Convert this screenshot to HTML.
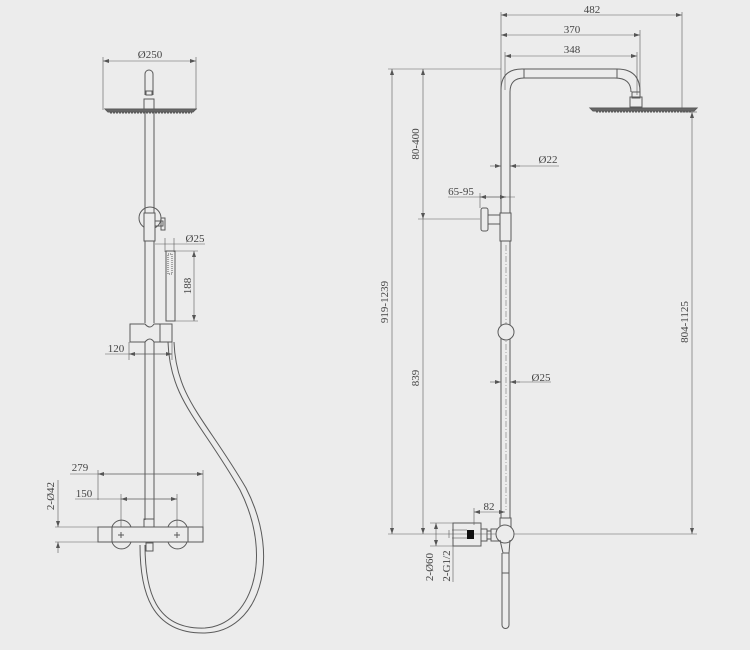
<!DOCTYPE html>
<html><head><meta charset="utf-8"><style>
html,body{margin:0;padding:0;background:#ececec;}
svg{display:block}
text{font-family:"Liberation Serif",serif;font-size:11px;fill:#444}
</style></head><body>
<svg width="750" height="650" viewBox="0 0 750 650" xmlns="http://www.w3.org/2000/svg">
<defs>
<marker id="a" markerWidth="6" markerHeight="4" refX="6" refY="2" orient="auto-start-reverse" markerUnits="userSpaceOnUse"><path d="M0,0 L6,2 L0,4z" fill="#555"/></marker>
</defs>
<rect width="750" height="650" fill="#ececec"/>
<g stroke="#5a5a5a" stroke-width="1" fill="none">
<!-- LEFT VIEW -->
<!-- dim 250 -->
<line x1="103" y1="57" x2="103" y2="110" stroke-width="0.6"/>
<line x1="196" y1="57" x2="196" y2="110" stroke-width="0.6"/>
<line x1="103" y1="61" x2="196" y2="61" stroke-width="0.6" marker-start="url(#a)" marker-end="url(#a)"/>
<!-- head -->
<path d="M145,95 V74 a4,4 0 0 1 8,0 V95"/>
<rect x="146" y="91" width="6" height="4"/>
<rect x="144" y="99" width="10" height="10"/>
<path d="M105,109 H196 L193,112 H108 Z" fill="#666"/>
<line x1="110" y1="113" x2="192" y2="113" stroke-dasharray="2,1"/>
<!-- pipe -->
<line x1="145" y1="112" x2="145" y2="323"/>
<line x1="154" y1="112" x2="154" y2="240"/>
<line x1="154" y1="240" x2="154" y2="323"/>
<line x1="145" y1="342" x2="145" y2="520"/>
<line x1="154" y1="342" x2="154" y2="520"/>
<circle cx="150" cy="218" r="11"/>
<rect x="144" y="213" width="11" height="28" fill="#ececec"/>
<rect x="155" y="221" width="8" height="5"/>
<rect x="161" y="218" width="4" height="12"/>
<!-- Ø25 dim -->
<line x1="165" y1="238" x2="165" y2="252" stroke-width="0.6"/>
<line x1="174" y1="238" x2="174" y2="252" stroke-width="0.6"/>
<line x1="155" y1="244" x2="205" y2="244" stroke-width="0.6"/>
<!-- hand shower -->
<rect x="166" y="251" width="9" height="70"/>
<rect x="168" y="254" width="4" height="20" stroke-dasharray="1,1"/>
<line x1="175" y1="251" x2="198" y2="251" stroke-width="0.6"/>
<line x1="175" y1="321" x2="198" y2="321" stroke-width="0.6"/>
<line x1="194" y1="251" x2="194" y2="321" stroke-width="0.6" marker-start="url(#a)" marker-end="url(#a)"/>
<!-- slide holder -->
<path d="M130,324 H145 q5,6 9,0 H172 V342 H154 q-4,-6 -9,0 H130 Z"/>
<line x1="160" y1="324" x2="160" y2="342"/>
<line x1="129" y1="342" x2="129" y2="360" stroke-width="0.6"/>
<line x1="172" y1="342" x2="172" y2="360" stroke-width="0.6"/>
<line x1="105" y1="354" x2="172" y2="354" stroke-width="0.6"/>
<line x1="129" y1="354" x2="172" y2="354" stroke-width="0.6" marker-start="url(#a)" marker-end="url(#a)"/>
<!-- hose -->
<path d="M168,342 C170,400 200,420 240,490 C275,560 250,625 205,628 C155,630 145,590 145,545"/>
<path d="M174,342 C176,398 205,418 246,488 C283,560 258,632 205,633 C150,634 140,590 140,545" />
<!-- mixer -->
<rect x="98" y="527" width="105" height="15" fill="#ececec"/>
<line x1="112" y1="527" x2="112" y2="542"/>
<line x1="188" y1="527" x2="188" y2="542"/>
<path d="M112,527 a10,10 0 0 1 19,0 M112,542 a10,10 0 0 0 19,0"/>
<path d="M168,527 a10,10 0 0 1 19,0 M168,542 a10,10 0 0 0 19,0"/>
<path d="M118,535 h6 M121,532 v6 M174,535 h6 M177,532 v6"/>
<rect x="144" y="519" width="10" height="8"/>
<rect x="146" y="543" width="7" height="8"/>
<!-- 279 / 150 dims -->
<line x1="98" y1="470" x2="98" y2="500" stroke-width="0.6"/>
<line x1="203" y1="470" x2="203" y2="527" stroke-width="0.6"/>
<line x1="70" y1="474" x2="203" y2="474" stroke-width="0.6"/>
<line x1="98" y1="474" x2="203" y2="474" stroke-width="0.6" marker-start="url(#a)" marker-end="url(#a)"/>
<line x1="121" y1="494" x2="121" y2="527" stroke-width="0.6"/>
<line x1="177" y1="494" x2="177" y2="527" stroke-width="0.6"/>
<line x1="75" y1="499" x2="177" y2="499" stroke-width="0.6"/>
<line x1="121" y1="499" x2="177" y2="499" stroke-width="0.6" marker-start="url(#a)" marker-end="url(#a)"/>
<line x1="55" y1="527" x2="98" y2="527" stroke-width="0.6"/>
<line x1="55" y1="542" x2="98" y2="542" stroke-width="0.6"/>
<line x1="58" y1="480" x2="58" y2="527" stroke-width="0.6" marker-end="url(#a)"/>
<line x1="58" y1="553" x2="58" y2="542" stroke-width="0.6" marker-end="url(#a)"/>

<!-- RIGHT VIEW -->
<line x1="501" y1="12" x2="501" y2="90" stroke-width="0.6"/>
<line x1="682" y1="12" x2="682" y2="110" stroke-width="0.6"/>
<line x1="501" y1="15" x2="682" y2="15" stroke-width="0.6" marker-start="url(#a)" marker-end="url(#a)"/>
<line x1="640" y1="30" x2="640" y2="95" stroke-width="0.6"/>
<line x1="501" y1="35" x2="640" y2="35" stroke-width="0.6" marker-start="url(#a)" marker-end="url(#a)"/>
<line x1="505" y1="52" x2="505" y2="90" stroke-width="0.6"/>
<line x1="637" y1="52" x2="637" y2="95" stroke-width="0.6"/>
<line x1="505" y1="56" x2="637" y2="56" stroke-width="0.6" marker-start="url(#a)" marker-end="url(#a)"/>
<!-- pipe + arm -->
<path d="M501,520 V90 Q501,69 522,69 H617 Q640,69 640,92"/>
<path d="M510,520 V92 Q510,78 524,78 H615 Q631,78 631,92"/>
<line x1="524" y1="69" x2="524" y2="78"/>
<line x1="617" y1="69" x2="617" y2="78"/>
<rect x="632" y="92" width="8" height="6"/>
<rect x="630" y="97" width="12" height="10"/>
<path d="M590,108 H697 L694,111 H593 Z" fill="#666"/>
<line x1="596" y1="112" x2="692" y2="112" stroke-dasharray="2,1"/>
<line x1="506" y1="245" x2="506" y2="510" stroke-width="0.5" stroke-dasharray="6,2,1,2"/>
<!-- left vertical dims -->
<line x1="388" y1="69" x2="501" y2="69" stroke-width="0.6"/>
<line x1="388" y1="534" x2="697" y2="534" stroke-width="0.6"/>
<line x1="392" y1="69" x2="392" y2="534" stroke-width="0.6" marker-start="url(#a)" marker-end="url(#a)"/>
<line x1="423" y1="69" x2="423" y2="219" stroke-width="0.6" marker-start="url(#a)" marker-end="url(#a)"/>
<line x1="423" y1="219" x2="423" y2="534" stroke-width="0.6" marker-end="url(#a)"/>
<line x1="418" y1="219" x2="480" y2="219" stroke-width="0.6"/>
<line x1="692" y1="112" x2="692" y2="534" stroke-width="0.6" marker-start="url(#a)" marker-end="url(#a)"/>
<line x1="682" y1="112" x2="697" y2="112" stroke-width="0.6"/>
<!-- Ø22 -->
<line x1="490" y1="166" x2="501" y2="166" stroke-width="0.6" marker-end="url(#a)"/>
<line x1="520" y1="166" x2="510" y2="166" stroke-width="0.6" marker-end="url(#a)"/>
<line x1="510" y1="166" x2="559" y2="166" stroke-width="0.6"/>
<!-- 65-95 -->
<line x1="448" y1="197" x2="515" y2="197" stroke-width="0.6"/>
<line x1="480" y1="197" x2="506" y2="197" stroke-width="0.6" marker-start="url(#a)" marker-end="url(#a)"/>
<line x1="480" y1="193" x2="480" y2="208" stroke-width="0.6"/>
<!-- wall bracket -->
<rect x="481" y="208" width="7" height="23" rx="2"/>
<rect x="488" y="215" width="13" height="9"/>
<rect x="500" y="213" width="11" height="28" fill="#ececec"/>
<circle cx="506" cy="332" r="8" fill="#ececec"/>
<!-- Ø25 right -->
<line x1="490" y1="382" x2="501" y2="382" stroke-width="0.6" marker-end="url(#a)"/>
<line x1="520" y1="382" x2="510" y2="382" stroke-width="0.6" marker-end="url(#a)"/>
<line x1="510" y1="382" x2="551" y2="382" stroke-width="0.6"/>
<!-- 82 -->
<line x1="474" y1="508" x2="474" y2="525" stroke-width="0.6"/>
<line x1="474" y1="512" x2="505" y2="512" stroke-width="0.6" marker-start="url(#a)" marker-end="url(#a)"/>
<!-- bottom connector -->
<rect x="453" y="523" width="28" height="23"/>
<rect x="467" y="530" width="7" height="9" fill="#111" stroke="none"/>
<rect x="481" y="529" width="6" height="12"/>
<rect x="487" y="531" width="4" height="8"/>
<rect x="491" y="529" width="8" height="12"/>
<rect x="500" y="518" width="11" height="9" fill="#ececec"/>
<circle cx="505" cy="534" r="9" fill="#ececec"/>
<path d="M500,540 L503,553 H509 L510,540"/>
<path d="M502,553 V625 a3,3 0 0 0 7,0 V553"/>
<line x1="502" y1="573" x2="509" y2="573"/>
<line x1="430" y1="523" x2="453" y2="523" stroke-width="0.6"/>
<line x1="430" y1="546" x2="453" y2="546" stroke-width="0.6"/>
<line x1="436" y1="523" x2="436" y2="546" stroke-width="0.6" marker-start="url(#a)" marker-end="url(#a)"/>
<line x1="453" y1="526" x2="453" y2="582" stroke-width="0.6"/>
<line x1="449" y1="530" x2="449" y2="538" stroke-width="0.6"/>
<line x1="452" y1="530" x2="467" y2="530" stroke-width="0.6"/>
<line x1="452" y1="538" x2="467" y2="538" stroke-width="0.6"/>
</g>
<g>
<text x="150" y="58" text-anchor="middle">Ø250</text>
<text x="195" y="242" text-anchor="middle">Ø25</text>
<text x="191" y="286" text-anchor="middle" transform="rotate(-90 191 286)">188</text>
<text x="116" y="352" text-anchor="middle">120</text>
<text x="80" y="471" text-anchor="middle">279</text>
<text x="84" y="497" text-anchor="middle">150</text>
<text x="54" y="496" text-anchor="middle" transform="rotate(-90 54 496)">2-Ø42</text>
<text x="592" y="13" text-anchor="middle">482</text>
<text x="572" y="33" text-anchor="middle">370</text>
<text x="572" y="53" text-anchor="middle">348</text>
<text x="419" y="144" text-anchor="middle" transform="rotate(-90 419 144)">80-400</text>
<text x="388" y="302" text-anchor="middle" transform="rotate(-90 388 302)">919-1239</text>
<text x="419" y="378" text-anchor="middle" transform="rotate(-90 419 378)">839</text>
<text x="688" y="322" text-anchor="middle" transform="rotate(-90 688 322)">804-1125</text>
<text x="548" y="163" text-anchor="middle">Ø22</text>
<text x="461" y="195" text-anchor="middle">65-95</text>
<text x="541" y="381" text-anchor="middle">Ø25</text>
<text x="489" y="510" text-anchor="middle">82</text>
<text x="433" y="567" text-anchor="middle" transform="rotate(-90 433 567)">2-Ø60</text>
<text x="450" y="566" text-anchor="middle" transform="rotate(-90 450 566)">2-G1/2</text>
</g>
</svg>
</body></html>
